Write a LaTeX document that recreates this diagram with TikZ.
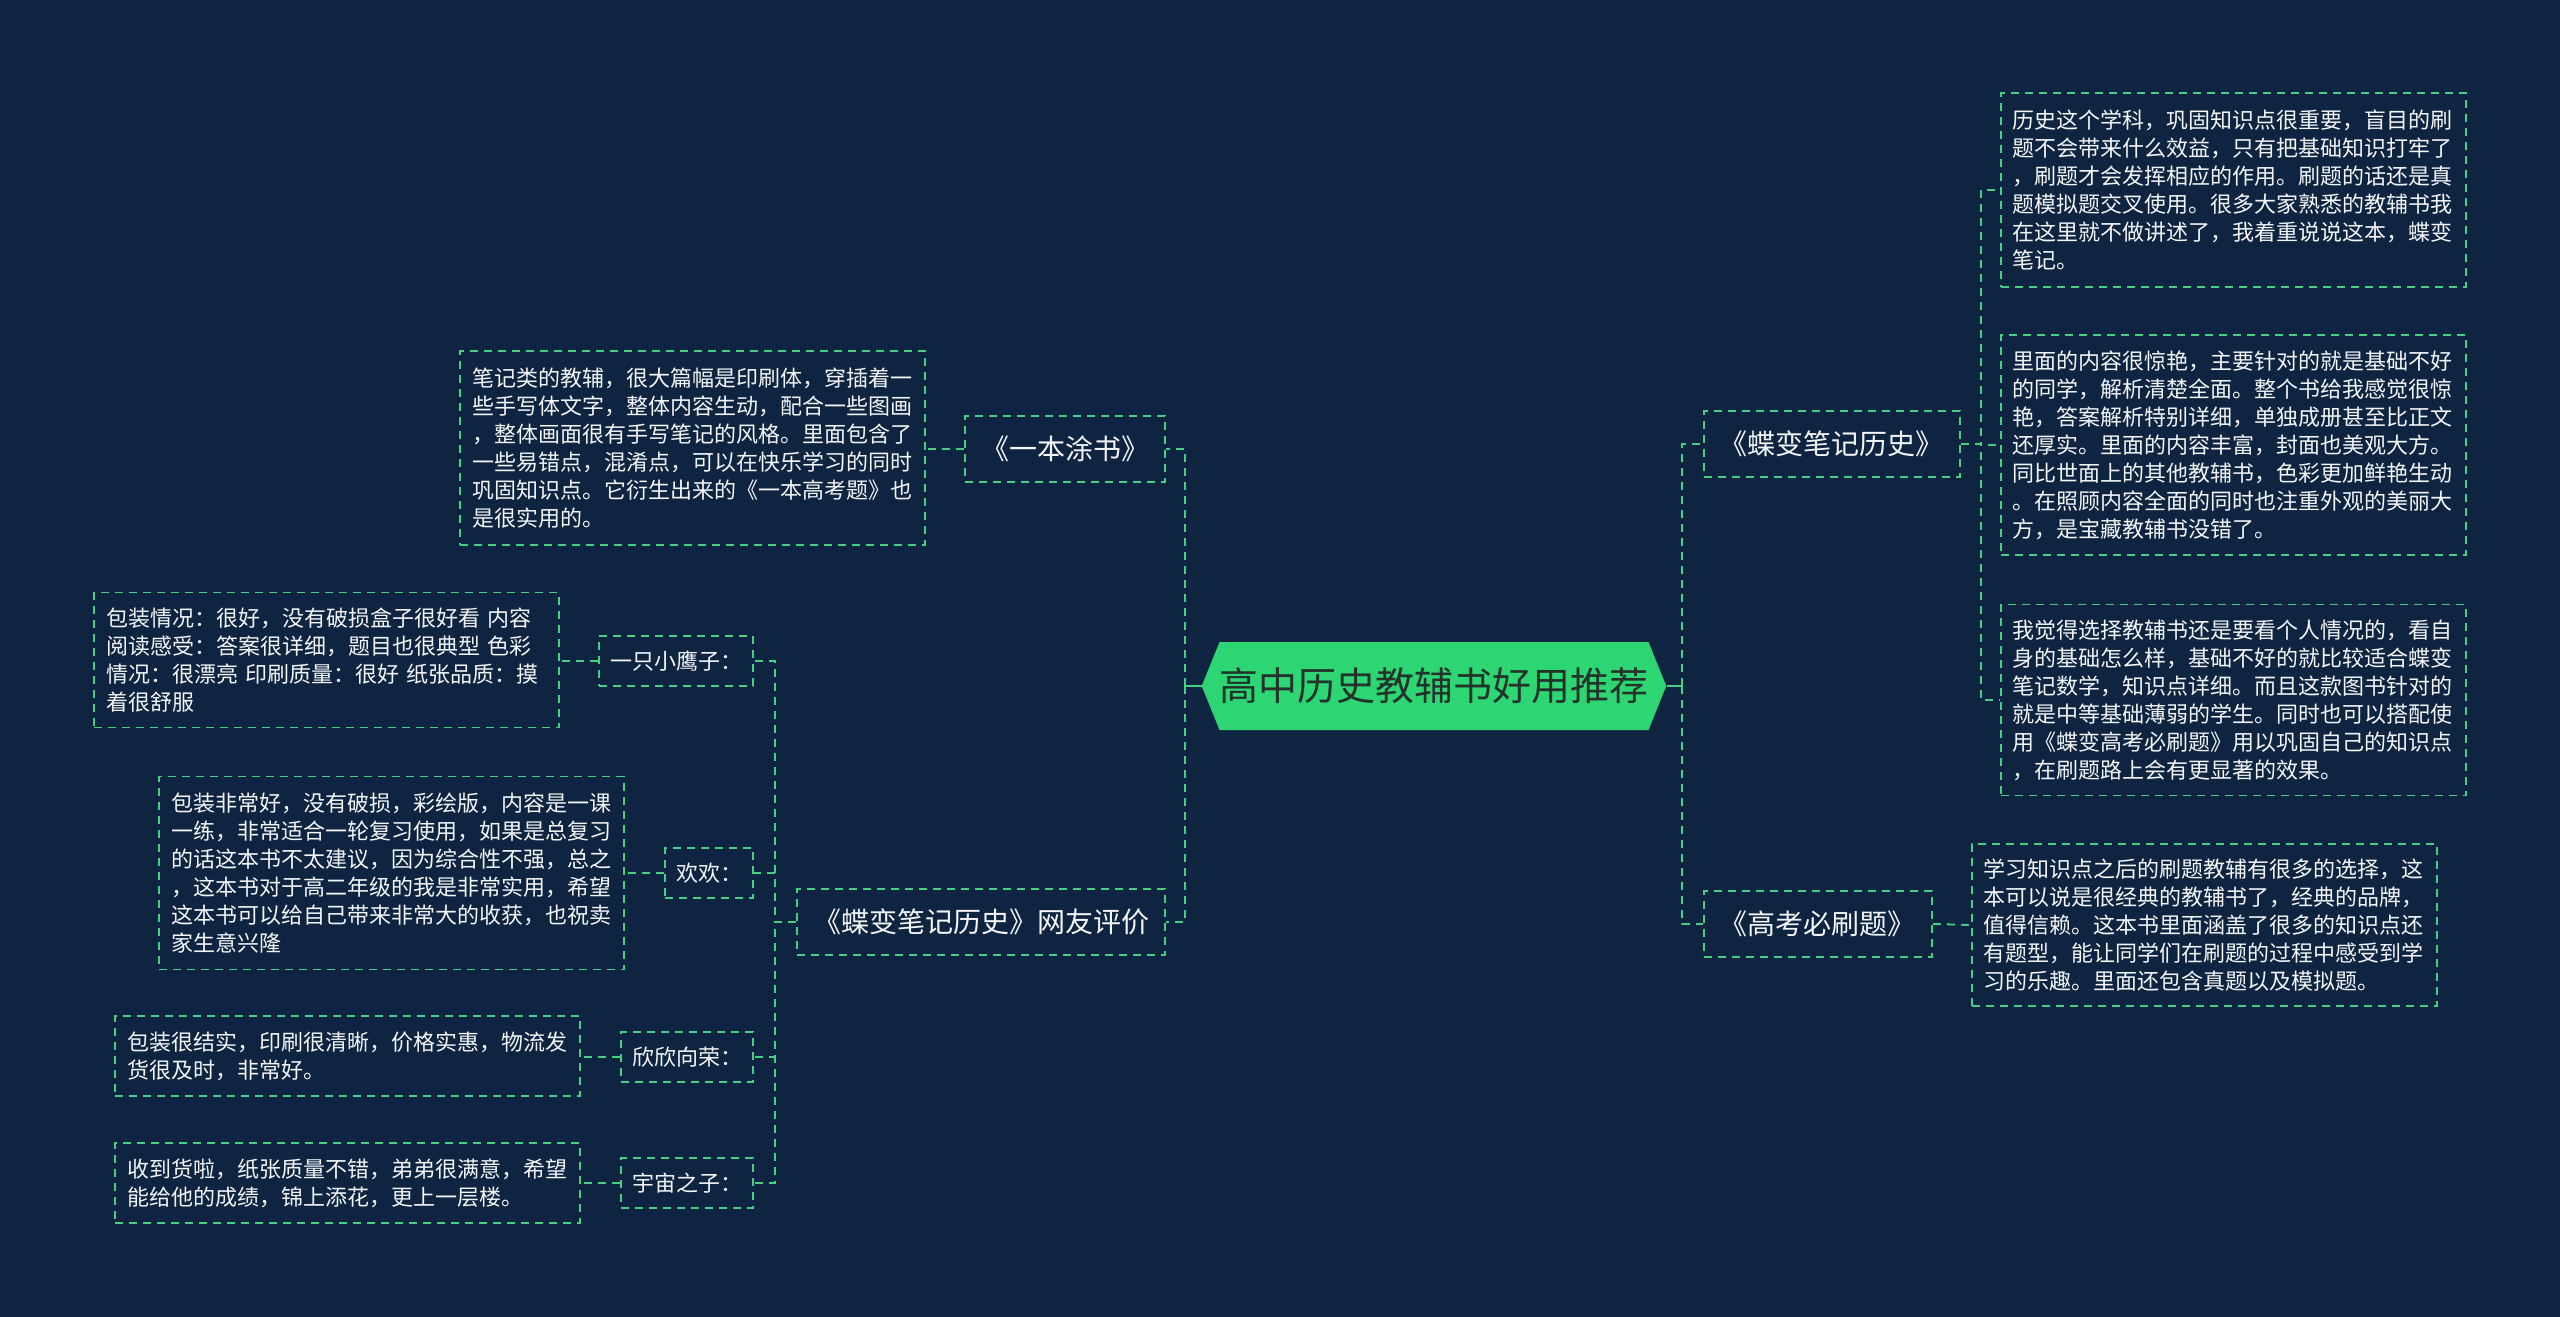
\documentclass[tikz,border=0pt]{standalone}
\usepackage{fontspec}
\setmainfont{Noto Sans CJK SC}
\usetikzlibrary{shapes.symbols,calc}
\definecolor{bgc}{HTML}{0E2441}
\definecolor{lnc}{HTML}{46CF80}
\definecolor{ctrfill}{HTML}{2ED573}
\definecolor{ctrtext}{HTML}{22332C}
\definecolor{txc}{HTML}{F4F6F8}
\tikzset{
  ctrnode/.style={signal, signal to=west and east, signal pointer angle=136,
    fill=ctrfill, draw=none, text=ctrtext, minimum width=428pt, minimum height=88pt,
    inner sep=0pt, font=\fontsize{39}{46}\selectfont},
  labone/.style={draw=lnc, line width=1.9pt, dash pattern=on 8pt off 6pt, text=txc,
    minimum height=66pt, inner xsep=16pt, inner ysep=0pt, font=\fontsize{28}{34}\selectfont},
  labtwo/.style={draw=lnc, line width=1.9pt, dash pattern=on 8pt off 6pt, text=txc,
    minimum height=50pt, inner xsep=11pt, inner ysep=0pt, font=\fontsize{22}{28}\selectfont},
  content/.style={draw=lnc, line width=1.9pt, dash pattern=on 8pt off 6pt, text=txc,
    text width=441pt, align=left, inner xsep=12pt, inner ysep=0pt,
    font=\fontsize{22}{28}\selectfont},
  conn/.style={draw=lnc, line width=1.9pt, dash pattern=on 8pt off 6pt},
  stub/.style={draw=lnc, line width=2.6pt}
}
\begin{document}
\begin{tikzpicture}[x=1pt,y=-1pt]
\useasboundingbox (0,0) rectangle (2560,1317);
\fill[bgc] (0,0) rectangle (2560,1317);

% centre
\node[ctrnode] (c) at (1434,686) {高中历史教辅书好用推荐};
\coordinate (rt) at (1682,686);
\coordinate (lt) at (1185,686);

% right branch
\node[labone, anchor=west] (r1) at (1703,444) {《蝶变笔记历史》};
\node[labone, anchor=west] (r2) at (1703,924) {《高考必刷题》};
\node[content, anchor=west, minimum height=194pt] (r1a) at (2000,190) {历史这个学科，巩固知识点很重要，盲目的刷\\题不会带来什么效益，只有把基础知识打牢了\\，刷题才会发挥相应的作用。刷题的话还是真\\题模拟题交叉使用。很多大家熟悉的教辅书我\\在这里就不做讲述了，我着重说说这本，蝶变\\笔记。};
\node[content, anchor=west, minimum height=220pt] (r1b) at (2000,445) {里面的内容很惊艳，主要针对的就是基础不好\\的同学，解析清楚全面。整个书给我感觉很惊\\艳，答案解析特别详细，单独成册甚至比正文\\还厚实。里面的内容丰富，封面也美观大方。\\同比世面上的其他教辅书，色彩更加鲜艳生动\\。在照顾内容全面的同时也注重外观的美丽大\\方，是宝藏教辅书没错了。};
\node[content, anchor=west, minimum height=191pt] (r1c) at (2000,700) {我觉得选择教辅书还是要看个人情况的，看自\\身的基础怎么样，基础不好的就比较适合蝶变\\笔记数学，知识点详细。而且这款图书针对的\\就是中等基础薄弱的学生。同时也可以搭配使\\用《蝶变高考必刷题》用以巩固自己的知识点\\，在刷题路上会有更显著的效果。};
\node[content, anchor=west, minimum height=162pt] (r2a) at (1971,925) {学习知识点之后的刷题教辅有很多的选择，这\\本可以说是很经典的教辅书了，经典的品牌，\\值得信赖。这本书里面涵盖了很多的知识点还\\有题型，能让同学们在刷题的过程中感受到学\\习的乐趣。里面还包含真题以及模拟题。};

% left branch
\node[labone, anchor=east] (l1) at (1166,449) {《一本涂书》};
\node[labone, anchor=east] (l2) at (1166,922) {《蝶变笔记历史》网友评价};
\node[content, anchor=east, minimum height=194pt] (l1a) at (926,448) {笔记类的教辅，很大篇幅是印刷体，穿插着一\\些手写体文字，整体内容生动，配合一些图画\\，整体画面很有手写笔记的风格。里面包含了\\一些易错点，混淆点，可以在快乐学习的同时\\巩固知识点。它衍生出来的《一本高考题》也\\是很实用的。};
\node[labtwo, anchor=east] (u1) at (754,661) {一只小鹰子：};
\node[labtwo, anchor=east] (u2) at (754,873) {欢欢：};
\node[labtwo, anchor=east] (u3) at (754,1057) {欣欣向荣：};
\node[labtwo, anchor=east] (u4) at (754,1183) {宇宙之子：};
\node[content, anchor=east, minimum height=135pt] (u1a) at (560,660) {包装情况：很好，没有破损盒子很好看 内容\\阅读感受：答案很详细，题目也很典型 色彩\\情况：很漂亮 印刷质量：很好 纸张品质：摸\\着很舒服};
\node[content, anchor=east, minimum height=193pt] (u2a) at (625,873) {包装非常好，没有破损，彩绘版，内容是一课\\一练，非常适合一轮复习使用，如果是总复习\\的话这本书不太建议，因为综合性不强，总之\\，这本书对于高二年级的我是非常实用，希望\\这本书可以给自己带来非常大的收获，也祝卖\\家生意兴隆};
\node[content, anchor=east, minimum height=80pt] (u3a) at (581,1056) {包装很结实，印刷很清晰，价格实惠，物流发\\货很及时，非常好。};
\node[content, anchor=east, minimum height=80pt] (u4a) at (581,1183) {收到货啦，纸张质量不错，弟弟很满意，希望\\能给他的成绩，锦上添花，更上一层楼。};

% connectors from centre
\draw[stub] (c.east) -- (rt);
\draw[stub] (c.west) -- (lt);
\draw[conn] (rt) |- (r1.west);
\draw[conn] (rt) |- (r2.west);
\draw[conn] (lt) |- (l1.east);
\draw[conn] (lt) |- (l2.east);

% right level 2
\draw[conn] (r1.east) -- ++(20,0) |- (r1a.west);
\draw[conn] (r1.east) -- ++(20,0) |- (r1b.west);
\draw[conn] (r1.east) -- ++(20,0) |- (r1c.west);
\draw[conn] (r2.east) -- (r2a.west);

% left level 2
\draw[conn] (l1.west) -- (l1.west -| l1a.east);
\draw[conn] (l2.west) -- ++(-21,0) |- (u1.east);
\draw[conn] (l2.west) -- ++(-21,0) |- (u2.east);
\draw[conn] (l2.west) -- ++(-21,0) |- (u3.east);
\draw[conn] (l2.west) -- ++(-21,0) |- (u4.east);

% left level 3
\draw[conn] (u1.west) -- (u1.west -| u1a.east);
\draw[conn] (u2.west) -- (u2.west -| u2a.east);
\draw[conn] (u3.west) -- (u3.west -| u3a.east);
\draw[conn] (u4.west) -- (u4.west -| u4a.east);
\end{tikzpicture}
\end{document}
